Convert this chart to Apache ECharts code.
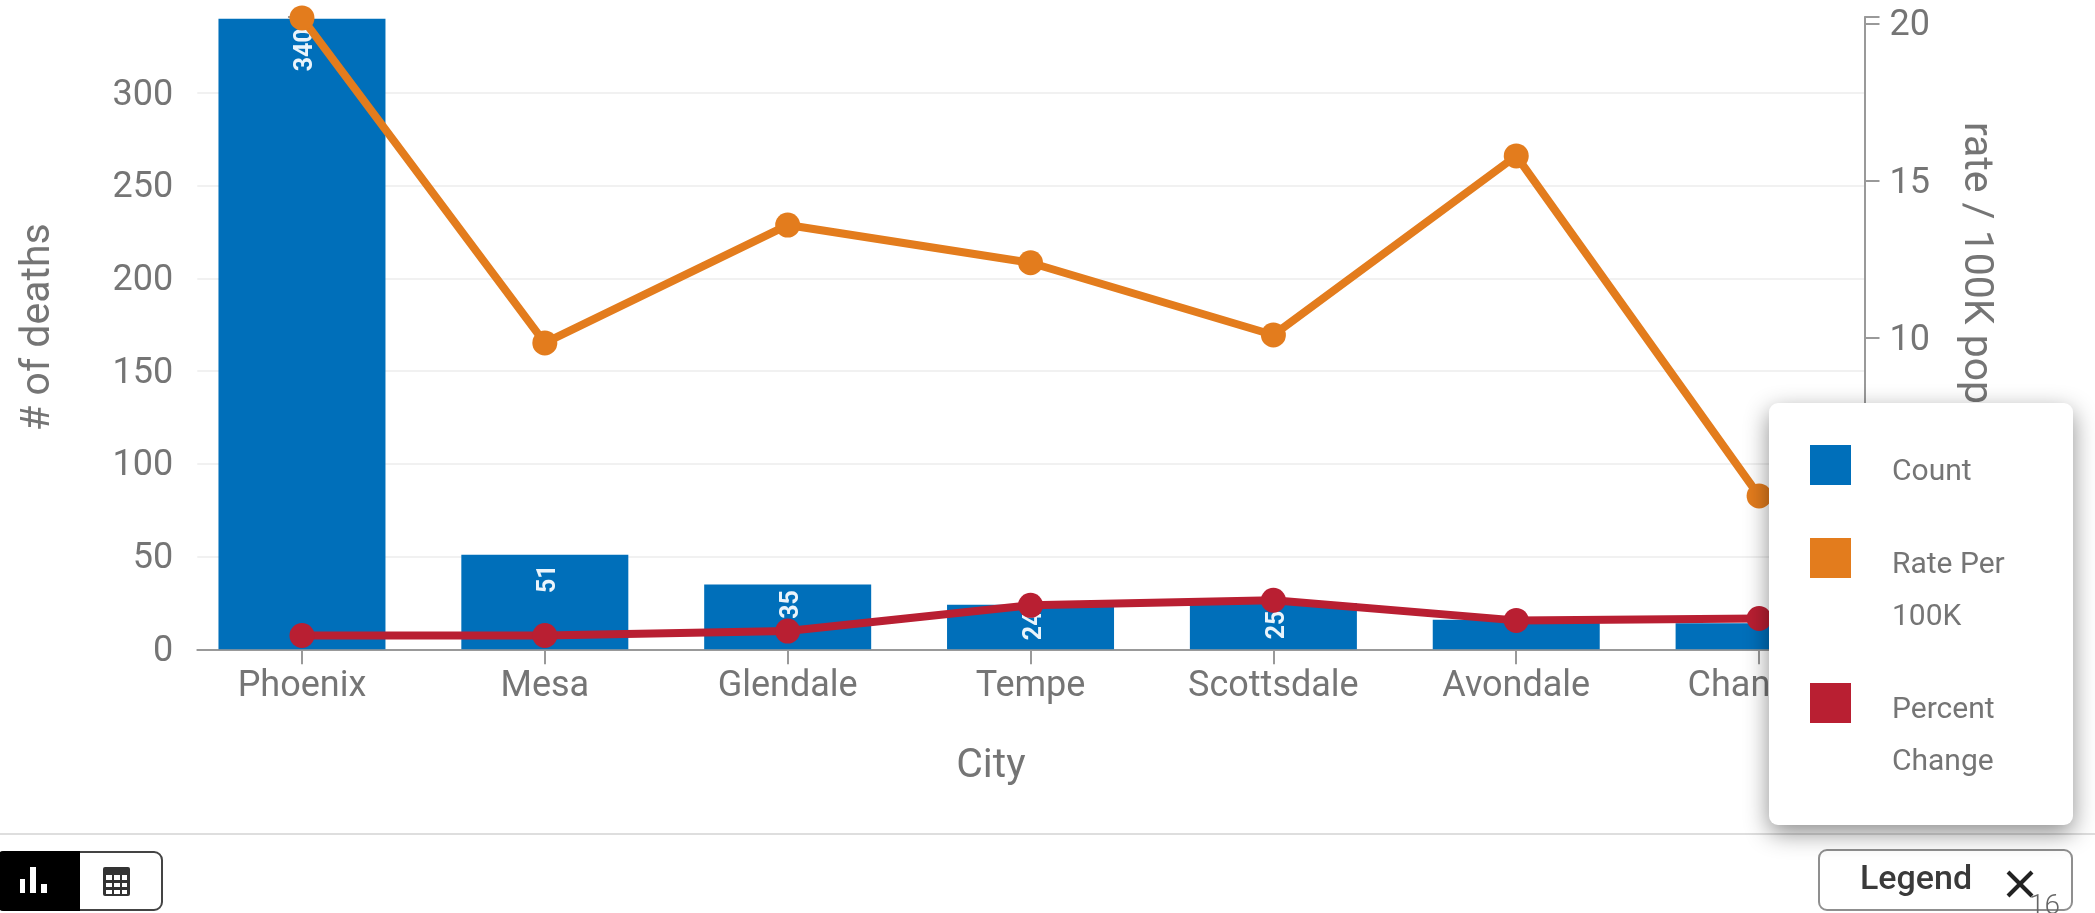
<!DOCTYPE html>
<html>
<head>
<meta charset="utf-8">
<script src="https://cdn.jsdelivr.net/npm/echarts@6/dist/echarts.min.js"></script>
<style>html,body{margin:0;padding:0;background:#fff}#c{width:2095px;height:913px}</style>
</head>
<body>
<div id="c"></div>
<script>
const cities = ['Phoenix','Mesa','Glendale','Tempe','Scottsdale','Avondale','Chandler'];
const counts = [340,51,35,24,25,16,14];
const ratePer100K = [20.19,9.85,13.6,12.4,10.1,15.8,4.98];
const percentChange = [0.54,0.54,0.68,1.5,1.66,1.02,1.08];
const countTicks = [0,50,100,150,200,250,300];
const rateTicks = [5,10,15,20];
const legendEntries = [
  {name:'Count', lines:['Count'], color:'#006fba'},
  {name:'Rate Per 100K', lines:['Rate Per','100K'], color:'#e37c1d'},
  {name:'Percent Change', lines:['Percent','Change'], color:'#b91f32'}
];

const GRAY = '#757575', AXIS = '#999999', FONT = 'Roboto';
const COUNT_MAX = 341, RATE_MIN = 0.1, RATE_MAX = 20.22;
const insets = [31,24,20,21,22,null,null];

const swatchTops = [445,538,683];
const lineCentres = [[472],[565,617],[710,762]];
const Z = 100;
const legendGraphics = [];
legendEntries.forEach((e,i)=>{
  legendGraphics.push({type:'rect',z:Z+1,shape:{x:1810,y:swatchTops[i],width:41,height:40},style:{fill:e.color}});
  e.lines.forEach((t,j)=>legendGraphics.push({type:'text',z:Z+1,style:{text:t,x:1892,y:lineCentres[i][j],
    fill:'#757575',font:'400 30px '+FONT,textVerticalAlign:'middle',verticalAlign:'middle'}}));
});

const chart = echarts.init(document.getElementById('c'),null,{renderer:'canvas'});
chart.setOption({
  animation:false,
  backgroundColor:'#ffffff',
  grid:{left:197.3,right:230.5,top:17,bottom:263.7,containLabel:false,outerBoundsMode:'none'},
  xAxis:{
    type:'value',min:-0.431,max:6.434,
    name:'City',nameLocation:'middle',nameGap:97,
    nameTextStyle:{color:GRAY,fontFamily:FONT,fontSize:41,padding:[0,80,0,0]},
    splitLine:{show:false},
    axisLine:{show:true,onZero:false,lineStyle:{color:AXIS,width:2}},
    axisTick:{show:true,length:15,lineStyle:{color:AXIS,width:2},customValues:cities.map((c,i)=>i)},
    axisLabel:{color:GRAY,fontFamily:FONT,fontSize:36,margin:20,customValues:cities.map((c,i)=>i),
      formatter:v=>cities[v]||'',hideOverlap:false}
  },
  yAxis:[{
    type:'value',min:0,max:COUNT_MAX,position:'left',
    name:'# of deaths',nameLocation:'middle',nameGap:138,nameRotate:90,
    nameTextStyle:{color:GRAY,fontFamily:FONT,fontSize:41,padding:[0,0,0,12]},
    splitLine:{show:true,showMaxLine:false,lineStyle:{color:'#f1f1f1',width:2}},
    axisLine:{show:true,lineStyle:{color:AXIS,width:2}},
    axisTick:{show:true,length:14,lineStyle:{color:AXIS,width:2},customValues:countTicks.concat([COUNT_MAX])},
    axisLabel:{color:GRAY,fontFamily:FONT,fontSize:36,margin:24,verticalAlign:'top',lineHeight:5,customValues:countTicks}
  },{
    type:'value',min:RATE_MIN,max:RATE_MAX,position:'right',
    name:'rate / 100K population',nameLocation:'middle',nameGap:90,nameRotate:-90,
    nameTextStyle:{color:GRAY,fontFamily:FONT,fontSize:41,padding:[0,16,0,0]},
    splitLine:{show:false},
    axisLine:{show:true,lineStyle:{color:AXIS,width:2}},
    axisTick:{show:true,length:15,lineStyle:{color:AXIS,width:2},customValues:[RATE_MIN].concat(rateTicks,[RATE_MAX])},
    axisLabel:{color:GRAY,fontFamily:FONT,fontSize:36,margin:25,verticalAlign:'top',lineHeight:5,customValues:rateTicks}
  }],
  series:[{
    name:legendEntries[0].name,type:'bar',yAxisIndex:0,barWidth:167,z:2,
    itemStyle:{color:legendEntries[0].color},
    data:counts.map((v,i)=>({
      value:[i,v],
      label:insets[i]===null?{show:false}:{show:true,position:'insideTop',distance:insets[i],rotate:90,offset:[0,4],
        align:'center',verticalAlign:'middle',color:'#eaf4fb',fontFamily:FONT,fontWeight:700,fontSize:25,
        formatter:String(v)}
    }))
  },{
    name:legendEntries[1].name,type:'line',yAxisIndex:1,z:5,clip:false,
    symbol:'circle',symbolSize:25,
    lineStyle:{color:legendEntries[1].color,width:8},
    itemStyle:{color:legendEntries[1].color},
    data:ratePer100K.map((v,i)=>[i,v])
  },{
    name:legendEntries[2].name,type:'line',yAxisIndex:1,z:6,clip:false,
    symbol:'circle',symbolSize:25,
    lineStyle:{color:legendEntries[2].color,width:8},
    itemStyle:{color:legendEntries[2].color},
    data:percentChange.map((v,i)=>[i,v])
  }],
  graphic:{elements:[
    {type:'line',z:Z-2,shape:{x1:0,y1:834,x2:2095,y2:834},style:{stroke:'#dedede',lineWidth:2}},
    // toggle
    {type:'rect',z:Z,shape:{x:-4,y:852,width:166,height:58,r:8},style:{fill:'#fff',stroke:'#444',lineWidth:2}},
    {type:'rect',z:Z+1,shape:{x:-4,y:851,width:84,height:60,r:[8,0,0,8]},style:{fill:'#000'}},
    {type:'rect',z:Z+2,shape:{x:20,y:879,width:5,height:14},style:{fill:'#fff'}},
    {type:'rect',z:Z+2,shape:{x:30,y:867,width:6,height:26},style:{fill:'#fff'}},
    {type:'rect',z:Z+2,shape:{x:41,y:884,width:6,height:9},style:{fill:'#fff'}},
    {type:'rect',z:Z+2,shape:{x:103,y:867,width:27,height:29,r:2},style:{fill:'#333'}},
    {type:'rect',z:Z+3,shape:{x:106,y:875,width:6,height:5},style:{fill:'#fff'}},
    {type:'rect',z:Z+3,shape:{x:114,y:875,width:6,height:5},style:{fill:'#fff'}},
    {type:'rect',z:Z+3,shape:{x:122,y:875,width:5,height:5},style:{fill:'#fff'}},
    {type:'rect',z:Z+3,shape:{x:106,y:883,width:6,height:4},style:{fill:'#fff'}},
    {type:'rect',z:Z+3,shape:{x:114,y:883,width:6,height:4},style:{fill:'#fff'}},
    {type:'rect',z:Z+3,shape:{x:122,y:883,width:5,height:4},style:{fill:'#fff'}},
    {type:'rect',z:Z+3,shape:{x:106,y:890,width:6,height:4},style:{fill:'#fff'}},
    {type:'rect',z:Z+3,shape:{x:114,y:890,width:6,height:4},style:{fill:'#fff'}},
    {type:'rect',z:Z+3,shape:{x:122,y:890,width:5,height:4},style:{fill:'#fff'}},
    // legend button
    {type:'rect',z:Z,shape:{x:1819,y:850,width:253,height:60,r:8},style:{fill:'#fff',stroke:'#8f8f8f',lineWidth:2}},
    {type:'text',z:Z+1,style:{text:'Legend',x:1860,y:880,fill:'#3a3a3a',font:'500 34px '+FONT,textVerticalAlign:'middle',verticalAlign:'middle'}},
    {type:'line',z:Z+1,shape:{x1:2008,y1:872,x2:2032,y2:896},style:{stroke:'#222',lineWidth:4}},
    {type:'line',z:Z+1,shape:{x1:2032,y1:872,x2:2008,y2:896},style:{stroke:'#222',lineWidth:4}},
    {type:'text',z:Z+2,style:{text:'16',x:2029,y:893,fill:'#666',font:'300 28px '+FONT}},
    // legend popup
    {type:'rect',z:Z,shape:{x:1769,y:403,width:304,height:422,r:9},
      style:{fill:'#fff',shadowBlur:24,shadowOffsetY:8,shadowOffsetX:0,shadowColor:'rgba(0,0,0,0.45)'}}
  ].concat(legendGraphics)}
});
</script>
</body>
</html>
